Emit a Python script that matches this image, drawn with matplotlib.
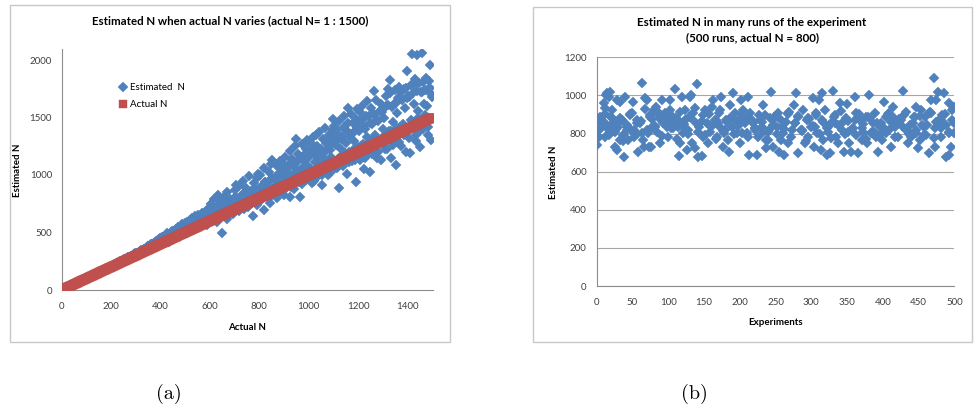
import numpy as np
import matplotlib
matplotlib.use("Agg")
import matplotlib.pyplot as plt
from matplotlib.patches import Rectangle

plt.rcParams['font.family'] = ['Lato', 'DejaVu Sans']

# ---------------- data: panel (a) ----------------
actual_n = list(range(1, 1501))
est_actual = list(range(5, 1501, 5))
est_values = [
    6, 11, 14, 21, 26, 31, 37, 40, 46, 52, 56, 59, 66, 71, 74, 82, 85, 92, 94, 103,
    108, 111, 118, 122, 124, 132, 136, 142, 147, 149, 156, 162, 166, 168, 176, 182, 184, 188, 196, 204,
    212, 214, 220, 228, 231, 236, 244, 246, 252, 262, 264, 268, 277, 283, 286, 296, 292, 305, 312, 309,
    322, 311, 333, 341, 330, 352, 357, 345, 371, 380, 362, 392, 396, 378, 413, 420, 395, 431, 446, 402,
    440, 419, 455, 465, 432, 476, 421, 488, 470, 452, 505, 512, 468, 526, 490, 534, 541, 498, 560, 520,
    572, 548, 528, 590, 565, 600, 540, 612, 585, 556, 630, 598, 575, 645, 617, 590, 660, 568, 635, 688,
    747, 610, 672, 640, 702, 588, 685, 720, 655, 492, 698, 735, 670, 615, 752, 710, 690, 775, 660, 812,
    912, 728, 765, 690, 800, 745, 835, 705, 778, 860, 725, 808, 760, 845, 643, 880, 795, 735, 1013, 830,
    770, 905, 860, 695, 935, 815, 880, 950, 760, 1129, 890, 845, 975, 800, 920, 1000, 862, 1055, 940, 825,
    1080, 905, 965, 1020, 810, 1110, 950, 880, 1060, 1317, 990, 1140, 810, 1035, 925, 1170, 1075, 960, 1302, 1010,
    1200, 1055, 930, 1250, 1110, 1346, 985, 1150, 1080, 1230, 912, 1185, 1045, 1280, 1120, 1000, 1215, 1160, 1310, 1490,
    1060, 1260, 1390, 1140, 883, 1230, 1340, 1100, 1420, 1280, 1010, 1583, 1200, 1360, 1120, 1450, 1300, 941, 1575, 1240,
    1380, 1130, 1480, 1270, 1050, 1400, 1330, 1180, 1510, 1027, 1440, 1260, 1731, 1350, 1150, 1470, 1290, 1560, 1129, 1400,
    1500, 1230, 1600, 1751, 1380, 1829, 1150, 1460, 1620, 1300, 1085, 1540, 1765, 1420, 1250, 1660, 1350, 1580, 1200, 1907,
    1680, 1187, 1480, 2055, 1620, 1832, 1300, 2040, 1560, 1245, 1720, 2060, 1400, 1742, 1846, 1600, 1350, 1953, 1302, 1700,
]
est_actual2 = list(range(3, 1501, 5))
est_values2 = [
    4, 9, 15, 18, 25, 29, 34, 41, 44, 50, 55, 61, 63, 70, 76, 80, 87, 89, 97, 101,
    106, 113, 115, 121, 128, 131, 137, 139, 146, 153, 155, 161, 168, 170, 177, 179, 186, 193, 195, 203,
    210, 215, 218, 226, 234, 233, 242, 250, 249, 258, 266, 262, 275, 280, 278, 290, 300, 296, 310, 318,
    315, 326, 320, 338, 348, 336, 360, 352, 368, 385, 372, 388, 404, 384, 410, 396, 425, 438, 412, 450,
    428, 462, 445, 470, 438, 492, 480, 455, 500, 510, 478, 522, 530, 495, 548, 515, 556, 570, 530, 585,
    545, 595, 560, 610, 580, 625, 552, 640, 605, 592, 655, 620, 600, 672, 640, 612, 690, 655, 705, 630,
    745, 660, 700, 790, 650, 725, 830, 690, 770, 705, 655, 805, 740, 850, 680, 720, 790, 760, 700, 775,
    870, 735, 800, 905, 760, 720, 950, 840, 790, 885, 745, 990, 815, 860, 770, 930, 880, 760, 975, 820,
    1000, 900, 830, 1060, 940, 850, 920, 1030, 805, 1100, 975, 880, 960, 1085, 840, 1010, 1120, 910, 995, 865,
    1160, 1030, 930, 1070, 1210, 900, 1140, 1000, 1250, 960, 1110, 1185, 940, 1050, 1270, 985, 1125, 1230, 1090, 1150,
    1290, 1040, 1190, 1330, 950, 1170, 1250, 1070, 1370, 1210, 1000, 1310, 1130, 1410, 1230, 1100, 1350, 1020, 1270, 1390,
    1430, 1290, 1060, 1350, 1470, 1160, 1310, 1080, 1510, 1190, 1390, 1450, 1110, 1330, 1530, 1220, 1370, 1130, 1490, 1410,
    1470, 1550, 1250, 1600, 1430, 1150, 1510, 1640, 1290, 1450, 1580, 1180, 1530, 1320, 1650, 1490, 1200, 1560, 1620, 1550,
    1570, 1350, 1690, 1230, 1610, 1710, 1380, 1590, 1260, 1740, 1630, 1410, 1670, 1290, 1720, 1650, 1440, 1750, 1760, 1670,
    1690, 1320, 1780, 1470, 1710, 1790, 1350, 1730, 1500, 1800, 1380, 1720, 1810, 1620, 1520, 1740, 1420, 1820, 1760, 1680,
]
a_xticks = [0, 200, 400, 600, 800, 1000, 1200, 1400]
a_yticks = [0, 500, 1000, 1500, 2000]

# ---------------- data: panel (b) ----------------
run_x = [
    0, 3, 4, 6, 7, 10, 11, 13, 15, 17, 19, 15, 19, 12, 21, 22, 23,
    26, 29, 26, 30, 28, 33, 35, 32, 37, 38, 40, 42, 44, 47, 48,
    51, 52, 56, 58, 61, 63, 65, 66, 68, 70, 71, 73, 74,
    76, 77, 80, 83, 84, 87, 88, 90, 92, 93, 96, 98, 99,
    102, 103, 105, 107, 109, 111, 113, 115, 117, 119, 121, 123, 124,
    126, 128, 130, 132, 133, 135, 137, 140, 141, 143, 147, 149,
    151, 154, 156, 158, 161, 163, 166, 168, 171, 172, 174,
    176, 178, 181, 183, 185, 186, 189, 191, 193, 196, 199,
    200, 202, 204, 206, 210, 212, 213, 215, 218, 221, 224,
    226, 228, 231, 233, 235, 237, 239, 241, 244, 246, 248,
    252, 254, 255, 258, 260, 262, 265, 267, 269, 273,
    276, 279, 281, 282, 285, 288, 291, 294, 296, 299,
    302, 304, 306, 308, 311, 313, 315, 317, 319, 322, 324,
    326, 328, 330, 333, 335, 338, 340, 343, 346, 349,
    350, 353, 355, 358, 361, 363, 366, 368, 371, 373,
    376, 378, 381, 383, 387, 389, 391, 394, 396, 399,
    402, 404, 405, 408, 411, 414, 416, 418, 421, 424,
    428, 430, 432, 435, 438, 440, 443, 446, 447, 449,
    452, 454, 457, 459, 461, 464, 466, 468, 472, 473, 474,
    475, 477, 481, 483, 486, 488, 489, 492, 493, 496, 497, 499, 500,
    4, 13, 20, 27, 36, 43, 50, 57, 64, 74, 81, 88, 95, 99, 104, 113, 120, 129, 139, 148,
    157, 167, 170, 179, 194, 203, 212, 221, 231, 240, 249, 259, 268, 277, 287, 296, 305, 315, 324, 333,
    343, 352, 361, 371, 380, 389, 398, 408, 417, 426, 436, 445, 455, 464, 473, 482, 492, 500,
]
run_y = [
    738, 784, 889, 854, 836, 958, 932, 1002, 1015, 994, 1020, 845, 810, 784, 880, 924, 845,
    731, 714, 810, 836, 976, 967, 871, 766, 792, 679, 990, 836, 766, 897, 818,
    967, 784, 871, 705, 854, 1067, 766, 731, 985, 818, 976, 731, 897,
    731, 836, 924, 941, 810, 897, 749, 871, 976, 854, 889, 836, 784,
    976, 924, 854, 889, 1032, 880, 836, 682, 749, 994, 801, 924, 871,
    714, 818, 994, 1002, 749, 906, 722, 1060, 679, 836, 682, 784,
    924, 854, 749, 810, 941, 976, 871, 784, 906, 836, 994,
    731, 801, 871, 766, 705, 950, 836, 1011, 906, 801, 871,
    749, 976, 924, 871, 801, 994, 687, 906, 854, 818, 687,
    784, 871, 836, 950, 897, 722, 766, 818, 1020, 731, 889,
    836, 906, 705, 766, 801, 687, 862, 749, 915, 818,
    950, 1011, 696, 889, 818, 924, 749, 871, 784, 836,
    985, 731, 897, 801, 976, 714, 1011, 766, 924, 687, 836,
    696, 854, 1025, 897, 784, 749, 958, 818, 705, 880,
    955, 749, 705, 827, 994, 906, 696, 871, 766, 810,
    889, 749, 1002, 801, 854, 906, 784, 705, 836, 766,
    967, 889, 801, 818, 731, 941, 880, 854, 784, 871,
    1025, 897, 818, 749, 845, 784, 889, 941, 801, 722,
    766, 924, 836, 889, 792, 696, 915, 976, 1090, 731, 862,
    976, 1020, 784, 897, 1011, 845, 679, 958, 687, 731, 924, 941, 801,
    871, 836, 888, 850, 871, 818, 906, 853, 801, 888, 836, 880, 906, 853, 827, 871, 836, 888, 853, 897,
    845, 871, 853, 818, 871, 801, 888, 827, 862, 810, 880, 836, 906, 853, 818, 880, 836, 871, 810, 853,
    853, 810, 871, 827, 888, 801, 853, 906, 836, 871, 810, 888, 845, 906, 827, 871, 801, 853,
]
run2_x = list(range(2, 501, 5))
run2_y = [
    815, 870, 905, 790, 850, 825, 880, 760, 845, 900,
    820, 795, 865, 930, 805, 875, 840, 910, 785, 860,
    890, 830, 770, 915, 850, 800, 880, 935, 810, 865,
    790, 900, 845, 770, 925, 815, 860, 880, 795, 840,
    905, 855, 780, 870, 830, 895, 810, 765, 880, 845,
    800, 870, 825, 905, 780, 855, 890, 815, 760, 875,
    840, 910, 795, 860, 830, 775, 885, 845, 920, 800,
    865, 825, 790, 900, 850, 770, 880, 815, 855, 795,
    830, 905, 860, 780, 875, 840, 915, 800, 855, 820,
    890, 790, 845, 910, 775, 865, 830, 900, 810, 870,
]
b_xticks = [0, 50, 100, 150, 200, 250, 300, 350, 400, 450, 500]
b_yticks = [0, 200, 400, 600, 800, 1000, 1200]

# ---------------- styling ----------------
BLUE = '#4F81BD'
RED = '#C0504D'
AXIS = '#8C8C8C'
GRID = '#A6A6A6'
TICKC = '#404040'
W, H = 974, 412
MS_D = 4.7

fig = plt.figure(figsize=(W / 100, H / 100), dpi=100)
renderer = fig.canvas.get_renderer()


def rect(l, t, r, b):
    return [l / W, 1 - b / H, (r - l) / W, (b - t) / H]


def fit_width(txt, target_px):
    w = txt.get_window_extent(renderer=renderer).width
    txt.set_fontsize(txt.get_fontsize() * target_px / w)


# outer chart boxes
for (l, t, r, b) in [(10, 5, 450, 342), (533, 7, 972, 342)]:
    fig.patches.append(Rectangle((l / W, 1 - b / H), (r - l) / W, (b - t) / H,
                                 transform=fig.transFigure, fill=False,
                                 edgecolor='#C8C8C8', lw=1.0))

# ---------------- panel (a) ----------------
ax1 = fig.add_axes(rect(61.7, 48.5, 433.3, 290))
ax1.plot(est_actual, est_values, linestyle='none', marker='D', ms=MS_D,
         color=BLUE, mec=BLUE, mew=0.3, label='Estimated  N', zorder=2)
ax1.plot(est_actual2, est_values2, linestyle='none', marker='D', ms=MS_D,
         color=BLUE, mec=BLUE, mew=0.3, zorder=2)
ax1.plot(actual_n, actual_n, linestyle='none', marker='s', ms=5.6,
         color=RED, mec=RED, mew=0.3, label='Actual N', zorder=3)
ax1.set_xlim(0, 1505)
ax1.set_ylim(0, 2100)
ax1.set_xticks(a_xticks)
ax1.set_yticks(a_yticks)
for s in ['top', 'right']:
    ax1.spines[s].set_visible(False)
for s in ['left', 'bottom']:
    ax1.spines[s].set_color(AXIS)
    ax1.spines[s].set_linewidth(0.8)
ax1.tick_params(axis='y', length=0, pad=7, labelsize=7, labelcolor=TICKC)
ax1.tick_params(axis='x', length=0, pad=8.3, labelsize=7, labelcolor=TICKC)
ax1.set_xlabel('Actual N', fontsize=7, fontweight='bold')
ax1.set_ylabel('Estimated N', fontsize=7, fontweight='bold')
ax1.xaxis.set_label_coords(0.4987, -0.157)
ax1.xaxis.label.set_va('center')
ax1.yaxis.set_label_coords(-0.1176, 0.497)
ax1.yaxis.label.set_va('center')
leg = ax1.legend(loc='upper left', bbox_to_anchor=(119 / W, 1 - 83 / H),
                 bbox_transform=fig.transFigure, frameon=False, fontsize=7,
                 handlelength=0.8, handletextpad=0.35, labelspacing=0.85,
                 borderpad=0, borderaxespad=0)
t1 = fig.text(230 / W, 1 - 20.7 / H,
              'Estimated N when actual N varies (actual N= 1 : 1500)',
              ha='center', va='center', fontsize=7.5, fontweight='bold')
fit_width(t1, 274)

# ---------------- panel (b) ----------------
ax2 = fig.add_axes(rect(596.7, 57.3, 954.3, 286))
ax2.set_axisbelow(True)
ax2.grid(axis='y', color=GRID, lw=0.8)
ax2.plot(run_x, run_y, linestyle='none', marker='D', ms=MS_D,
         color=BLUE, mec=BLUE, mew=0.3, zorder=3)
ax2.plot(run2_x, run2_y, linestyle='none', marker='D', ms=MS_D,
         color=BLUE, mec=BLUE, mew=0.3, zorder=3)
ax2.set_xlim(0, 500)
ax2.set_ylim(0, 1200)
ax2.set_xticks(b_xticks)
ax2.set_yticks(b_yticks)
for s in ['top', 'right']:
    ax2.spines[s].set_visible(False)
for s in ['left', 'bottom']:
    ax2.spines[s].set_color(AXIS)
    ax2.spines[s].set_linewidth(0.8)
ax2.tick_params(axis='y', length=0, pad=7.2, labelsize=7, labelcolor=TICKC)
ax2.tick_params(axis='x', length=0, pad=8.4, labelsize=7, labelcolor=TICKC)
ax2.set_xlabel('Experiments', fontsize=7, fontweight='bold')
ax2.set_ylabel('Estimated N', fontsize=7, fontweight='bold')
ax2.xaxis.set_label_coords(0.5006, -0.1605)
ax2.xaxis.label.set_va('center')
ax2.yaxis.set_label_coords(-0.1222, 0.4985)
ax2.yaxis.label.set_va('center')
t2 = fig.text(752 / W, 1 - 22.7 / H, 'Estimated N in many runs of the experiment',
              ha='center', va='center', fontsize=7.5, fontweight='bold')
fit_width(t2, 228)
t3 = fig.text(752 / W, 1 - 37.7 / H, '(500 runs, actual N = 800)',
              ha='center', va='center', fontsize=t2.get_fontsize(), fontweight='bold')

# ---------------- captions ----------------
fig.text(169 / W, 1 - 394 / H, '(a)', ha='center', va='center',
         fontsize=14.5, family='cmr10')
fig.text(694 / W, 1 - 394 / H, '(b)', ha='center', va='center',
         fontsize=14.5, family='cmr10')

fig.savefig('out.png', dpi=100)
